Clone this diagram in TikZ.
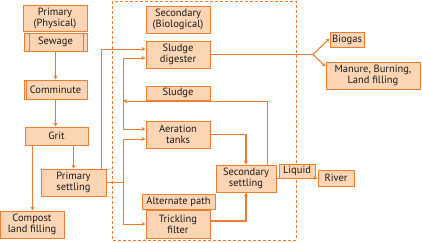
\documentclass[tikz,border=0pt]{standalone}
\usepackage{fontspec}
\setmainfont{PT Sans}
\usetikzlibrary{arrows.meta,calc}
\definecolor{oline}{HTML}{ED7D31}
\definecolor{ofill}{HTML}{FCD5B4}
\definecolor{otext}{HTML}{1A1A1A}
\tikzset{
  box/.style={draw=oline, fill=ofill, line width=1pt, inner sep=0pt, align=center,
    text=otext, font=\fontsize{10.5}{11}\selectfont},
  conn/.style={draw=oline, line width=0.8pt},
  arr/.style={conn, -{Stealth[length=4pt,width=4pt]}},
  thickarr/.style={draw=oline, line width=1.1pt, -{Stealth[length=4pt,width=4pt]}},
  area/.style={draw=oline, line width=0.7pt, dash pattern=on 3pt off 2pt}
}
\newcommand{\bx}[6]{\node[box, minimum width={#4-#2}, minimum height={#5-#3}] (#1) at ({(#2+#4)/2},{(#3+#5)/2}) {#6};}
\begin{document}
\begin{tikzpicture}[x=1pt,y=-1pt]
\useasboundingbox (0,0) rectangle (422,242);
\draw[area] (112,1) rectangle (296,240);
% primary side
\bx{primary}{23}{5}{87}{31}{Primary\\(Physical)}
\bx{sewage}{24}{33}{87}{51}{Sewage}
\draw[oline, line width=0.9pt] ([xshift=6pt]sewage.north west) -- ([xshift=6pt]sewage.south west)
  ([xshift=-4pt]sewage.north east) -- ([xshift=-4pt]sewage.south east);
\bx{comminute}{24}{80}{87}{99}{Comminute}
\draw[oline, line width=0.6pt] ([xshift=3pt]comminute.north west) -- ([xshift=3pt]comminute.south west);
\bx{grit}{25}{127}{88}{145}{Grit}
\bx{primset}{41}{169}{106}{196}{Primary\\settling}
\bx{compost}{0}{211}{64}{238}{Compost\\land filling}
% secondary side
\bx{secondary}{146}{6}{210}{33}{Secondary\\(Biological)}
\bx{digester}{146}{41}{210}{68}{Sludge\\digester}
\bx{sludge}{146}{86}{210}{100}{Sludge}
\bx{aeration}{146}{121}{210}{148}{Aeration\\tanks}
\bx{secset}{216}{165}{276}{192}{Secondary\\settling}
\bx{alternate}{142}{194}{215}{209}{Alternate path}
\bx{trickling}{146}{210}{210}{238}{Trickling\\filter}
\bx{liquid}{279}{164}{315}{178}{Liquid}
\bx{river}{318}{170}{354}{186}{River}
\bx{biogas}{330}{32}{364}{47}{Biogas}
\bx{manure}{326}{62}{420}{89}{Manure, Burning,\\Land filling}
% connectors primary
\draw[thickarr] (sewage.south) -- (sewage.south |- comminute.north);
\draw[thickarr] (comminute.south) -- (comminute.south |- grit.north);
\draw[thickarr] ([xshift=8pt]grit.south west) -- ([xshift=8pt]grit.south west |- compost.north);
\draw[arr] (grit.south -| primset.north) -- (primset.north);
\draw[arr] ([xshift=-5pt]primset.north east) |- ([yshift=5.5pt]digester.west);
\coordinate (ps) at (123,182.5);
\draw[conn] (primset.east) -- (ps);
\draw[arr] (ps) |- ([yshift=-4.5pt]aeration.west);
\draw[arr] (ps) |- (trickling.west);
% sludge recirculation
\coordinate (sj) at (123,101);
\draw[arr] ([xshift=-9pt]secset.north east) |- (sj);
\draw[arr] (sj) |- ([yshift=-3.5pt]digester.west);
\draw[arr] (sj) |- ([yshift=5.5pt]aeration.west);
% to secondary settling
\draw[thickarr] (aeration.east) -| (secset.north);
\draw[thickarr] ([yshift=3pt]trickling.east) -| (secset.south);
% to river
\draw[arr] (secset.east |- river.west) -- (river.west);
% digester outputs
\coordinate (ds) at (313,54.5);
\draw[conn] (digester.east) -- (ds);
\draw[thickarr] (ds) -- ([yshift=1pt]biogas.west);
\draw[thickarr] (ds) -- ([yshift=-5pt]manure.north west);
\end{tikzpicture}
\end{document}
